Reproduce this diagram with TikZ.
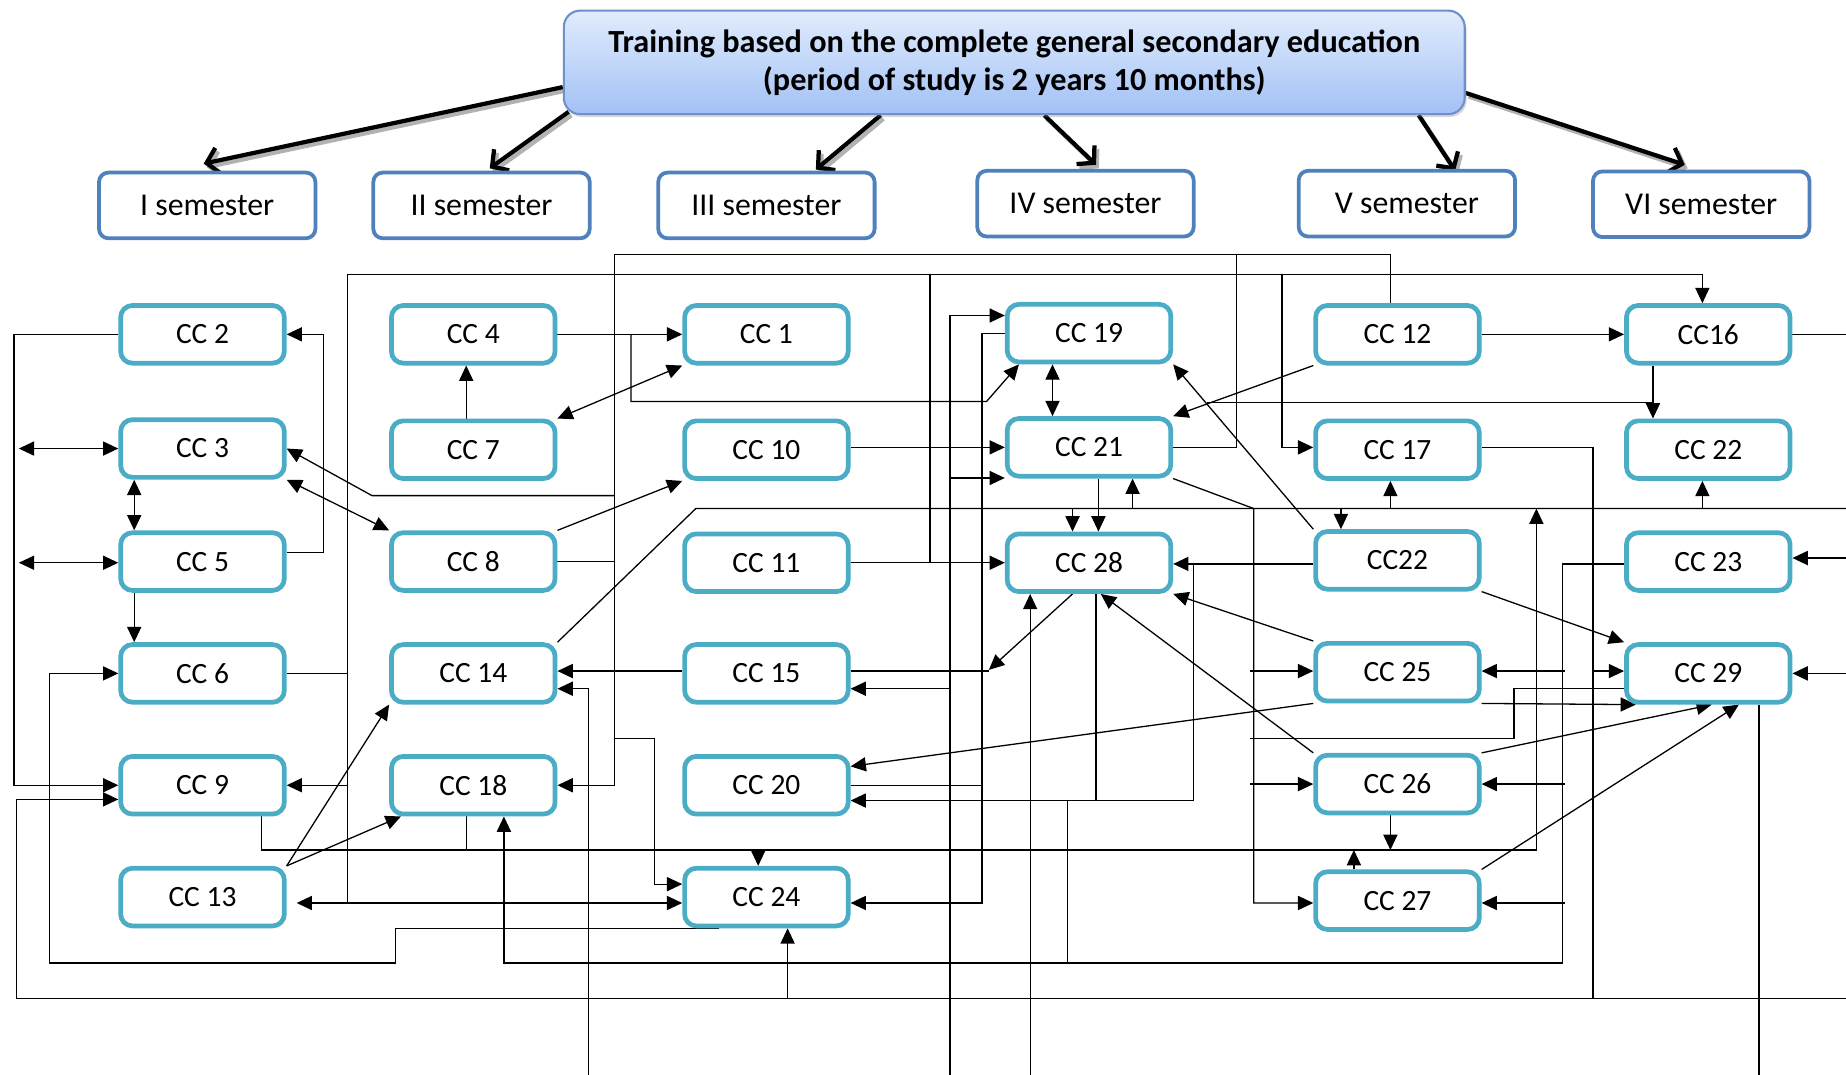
\documentclass[tikz,border=0pt]{standalone}
\usepackage{fontspec}
\setmainfont{Carlito}
\usetikzlibrary{arrows.meta,shadows,backgrounds}
\definecolor{ccteal}{HTML}{4BACC6}
\definecolor{semblue}{HTML}{4F81BD}
\definecolor{hdtop}{HTML}{E1ECFD}
\definecolor{hdbot}{HTML}{A2C1F5}
\definecolor{hdline}{HTML}{6F90CC}
\tikzset{
 ccbox/.style={draw=ccteal, line width=2pt, rounded corners=5pt, fill=white,
   minimum width=69.5pt, minimum height=24.5pt, inner sep=0pt, font=\fontsize{12.5}{15}\selectfont},
 sembox/.style={draw=semblue, line width=1.6pt, rounded corners=4pt, fill=white,
   minimum width=91.9pt, minimum height=27.9pt, inner sep=0pt, font=\fontsize{13.5}{16}\selectfont},
 hdrbox/.style={draw=hdline, line width=0.9pt, rounded corners=7pt, top color=hdtop, bottom color=hdbot,
   minimum width=382.6pt, minimum height=44pt, align=center, inner sep=0pt,
   drop shadow={opacity=0.3, shadow xshift=0.8pt, shadow yshift=-1.2pt},
   font=\bfseries\fontsize{13.7}{16}\selectfont},
 ln/.style={line width=0.55pt},
 ar/.style={ln, -{Triangle[length=6.5pt,width=6pt]}},
 dar/.style={ln, {Triangle[length=6.5pt,width=6pt]}-{Triangle[length=6.5pt,width=6pt]}},
 bigar/.style={line width=1.8pt, -{Straight Barb[length=5pt,width=11pt]}},
 bigsh/.style={bigar, black!30, transform canvas={shift={(1.2pt,-1.5pt)}}},
}
\newcommand\hdrarrows[1]{%
 \draw[#1] (hdr.west |- 0,74) -- (173,139);
 \draw[#1] (483,95) -- (416,143);
 \draw[#1] (hdr.south -| 748,0) -- (693,144);
 \draw[#1] (hdr.south -| 887,0) -- (931,140);
 \draw[#1] (hdr.south -| 1205,0) -- (1236,145);
 \draw[#1] (hdr.east |- 0,79) -- (1431,140);
}
\begin{document}
\begin{tikzpicture}[x=0.5pt,y=-0.5pt]
\useasboundingbox (0,0) rectangle (1568,913);
% header and semesters
\node[hdrbox] (hdr) at (861.5,53) {\raisebox{-1.5pt}{Training based on the complete general secondary education}\\\raisebox{-1.5pt}{(period of study is 2 years 10 months)}};
\node[sembox] (s1) at (176,174.5) {I semester};
\node[sembox] (s2) at (409,174.5) {II semester};
\node[sembox] (s3) at (651,174.5) {III semester};
\node[sembox] (s4) at (922,173) {IV semester};
\node[sembox] (s5) at (1195,173) {V semester};
\node[sembox] (s6) at (1445,173.5) {VI semester};
% CC boxes
\node[ccbox] (c2) at (172,284) {CC 2};
\node[ccbox] (c3) at (172,381) {CC 3};
\node[ccbox] (c5) at (172,477) {CC 5};
\node[ccbox] (c6) at (172,572) {CC 6};
\node[ccbox] (c9) at (172,667) {CC 9};
\node[ccbox] (c13) at (172,762) {CC 13};
\node[ccbox] (c4) at (402,284) {CC 4};
\node[ccbox] (c7) at (402,382) {CC 7};
\node[ccbox] (c8) at (402,477) {CC 8};
\node[ccbox] (c14) at (402,572) {CC 14};
\node[ccbox] (c18) at (402,667) {CC 18};
\node[ccbox] (c1) at (651,284) {CC 1};
\node[ccbox] (c10) at (651,382) {CC 10};
\node[ccbox] (c11) at (651,478) {CC 11};
\node[ccbox] (c15) at (651,572) {CC 15};
\node[ccbox] (c20) at (651,667) {CC 20};
\node[ccbox] (c24) at (651,762) {CC 24};
\node[ccbox] (c19) at (925,283) {CC 19};
\node[ccbox] (c21) at (925,380) {CC 21};
\node[ccbox] (c28) at (925,478) {CC 28};
\node[ccbox] (c12) at (1187,284) {CC 12};
\node[ccbox] (c17) at (1187,382) {CC 17};
\node[ccbox] (k22) at (1187,476) {CC22};
\node[ccbox] (c25) at (1187,571) {CC 25};
\node[ccbox] (c26) at (1187,666) {CC 26};
\node[ccbox] (c27) at (1187,765) {CC 27};
\node[ccbox] (c16) at (1451,284) {CC16};
\node[ccbox] (c22) at (1451,382) {CC 22};
\node[ccbox] (c23) at (1451,477) {CC 23};
\node[ccbox] (c29) at (1451,572) {CC 29};

\begin{scope}[on background layer]
\fill[white] (0,0) rectangle (1568,913);
\hdrarrows{bigsh}
\hdrarrows{bigar}
% column 1
\draw[ar] (c2.west) -| (12,667) -- (c9.west);
\draw[ar] (c5.east |- 0,469) -| (275,284) -- (c2.east);
\draw[dar] (16,381) -- (c3.west);
\draw[dar] (c3.south -| 114,0) -- (c5.north -| 114,0);
\draw[dar] (16,478) -- (c5.west |- 0,478);
\draw[ar] (c5.south -| 114,0) -- (c6.north -| 114,0);
\draw[ar] (c7.north -| 396,0) -- (c4.south -| 396,0);
\draw[dar] (c7.north east) -- (c1.south west);
\draw[ar] (522,421) -- (316,421) -- (c3.east);
\draw[dar] (c3.south east) -- (c8.north west);
\draw[ar] (c8.north east) -- (c10.south west);
% bus x=522
\draw[ar] (c12.north -| 1181,0) |- (522,216) |- (c18.east);
\draw[ln] (c21.east) -| (1050,216);
\draw[ln] (c8.east) -- (522,477);
\draw[ar] (522,627) -| (556,751) -- (c24.west |- 0,751);
% bus x=295
\draw[ar] (295,767) |- (1446,233) -- (c16.north -| 1446,0);
\draw[ln] (c6.east) -- (295,572);
\draw[ar] (295,667) -- (c9.east);
\draw[dar] (252,767) -- (c24.west |- 0,767);
\draw[ln] (790,233) -- (790,478);
\draw[ar] (1089,233) |- (c17.west |- 0,380);
% middle
\draw[ar] (c4.east) -- (c1.west);
\draw[ar] (536,284) |- (838,341) -- ([xshift=6pt]c19.south west);
\draw[dar] (c19.south -| 894,0) -- (c21.north -| 894,0);
\draw[ar] (807,913) |- (c19.west |- 0,268);
\draw[ar] (807,406) -- (c21.west |- 0,406);
\draw[ar] (807,585) -- (c15.east |- 0,585);
\draw[ar] (c19.west) -| (834,767) -- (c24.east |- 0,767);
\draw[ln] (c20.east) -- (834,667);
\draw[ar] (c10.east |- 0,380) -- (c21.west |- 0,380);
\draw[ar] (c12.south west) -- (c21.north east);
\draw[ln] (1025,342) -- (1404,342);
\draw[ar] (c16.south -| 1404,0) -- (c22.north -| 1404,0);
\draw[ar] (c12.east) -- (c16.west);
\draw[ln] (c16.east) -- (1568,284);
\draw[ar] (k22.north west) -- (c19.south east);
\draw[ar] (c21.south -| 933,0) -- (c28.north -| 933,0);
% line y=432
\draw[ln] (c14.north east) -- (591,432) -- (1568,432);
\draw[ar] (911,432) -- (c28.north -| 911,0);
\draw[ar] (962,432) -- (c21.south -| 962,0);
\draw[ar] (1139,432) -- (k22.north -| 1139,0);
\draw[ar] (1181,432) -- (c17.south -| 1181,0);
\draw[ar] (1446,432) -- (c22.south -| 1446,0);
% line y=722
\draw[ar] (c9.south -| 222,0) |- (1305,722) -- (1305,432);
\draw[ln] (c18.south -| 396,0) -- (396,722);
\draw[ar] (644,722) -- (c24.north -| 644,0);
\draw[ar] (c26.south -| 1181,0) -- (1181,722);
\draw[ar] (c27.north -| 1150,0) -- (1150,722);
% bus x=1065
\draw[ar] (c21.south east) -- (1065,432) |- (c27.west |- 0,767);
\draw[ar] (1062,570) -- (c25.west |- 0,570);
\draw[ar] (1062,666) -- (c26.west);
\draw[ln] (1062,627) -| (1286,585) -- (c29.west |- 0,585);
% CC 28 area
\draw[ar] (c11.east) -- (c28.west);
\draw[ar] (k22.west |- 0,479) -- (c28.east |- 0,479);
\draw[ar] (1014,479) |- (c20.east |- 0,680);
\draw[ln] (c28.south -| 931,0) -- (931,680);
\draw[ar] (c28.south -| 911,0) -- (840,569);
\draw[ln] (c15.east |- 0,570) -- (840,570);
\draw[ar] (c15.west |- 0,570) -- (c14.east |- 0,570);
\draw[ar] (500,913) |- (c14.east |- 0,585);
\draw[ar] (875,913) -- (c28.south -| 875,0);
\draw[ar] (c25.north west) -- (c28.south east);
\draw[ar] (c26.north west) -- (c28.south -| 935,0);
\draw[ar] (c25.south west) -- (c20.east |- 0,651);
% bus x=1327
\draw[ar] (c23.west |- 0,479) -| (1327,818) -| (c18.south -| 428,0);
\draw[ln] (907,818) -- (907,680);
\draw[ar] (1329,570) -- (c25.east |- 0,570);
\draw[ar] (1329,666) -- (c26.east);
\draw[ar] (1329,767) -- (c27.east |- 0,767);
% bus x=1353 and y=848
\draw[ln] (c17.east |- 0,380) -| (1353,848);
\draw[ar] (1353,570) -- (c29.west |- 0,570);
\draw[ln] (14,848) -- (1568,848);
\draw[ar] (14,848) |- (c9.west |- 0,679);
\draw[ar] (669,848) -- (c24.south -| 669,0);
\draw[ar] (c24.south -| 611,0) -| (336,818) -| (42,572) -- (c6.west);
% CC 29
\draw[ar] (k22.south east) -- (c29.north west);
\draw[ar] (c25.south east) -- ([xshift=5pt]c29.south west);
\draw[ar] (c26.north east) -- (c29.south -| 1454,0);
\draw[ar] (c27.north east) -- (c29.south -| 1477,0);
\draw[ln] (c29.south -| 1494,0) -- (1494,913);
\draw[ar] (1568,572) -- (c29.east);
\draw[ar] (1568,474) -- (c23.east |- 0,474);
% CC 13
\draw[ar] (c13.north east) -- (c14.south west);
\draw[ar] (c13.north east) -- ([xshift=5pt]c18.south west);
\end{scope}
\end{tikzpicture}
\end{document}
